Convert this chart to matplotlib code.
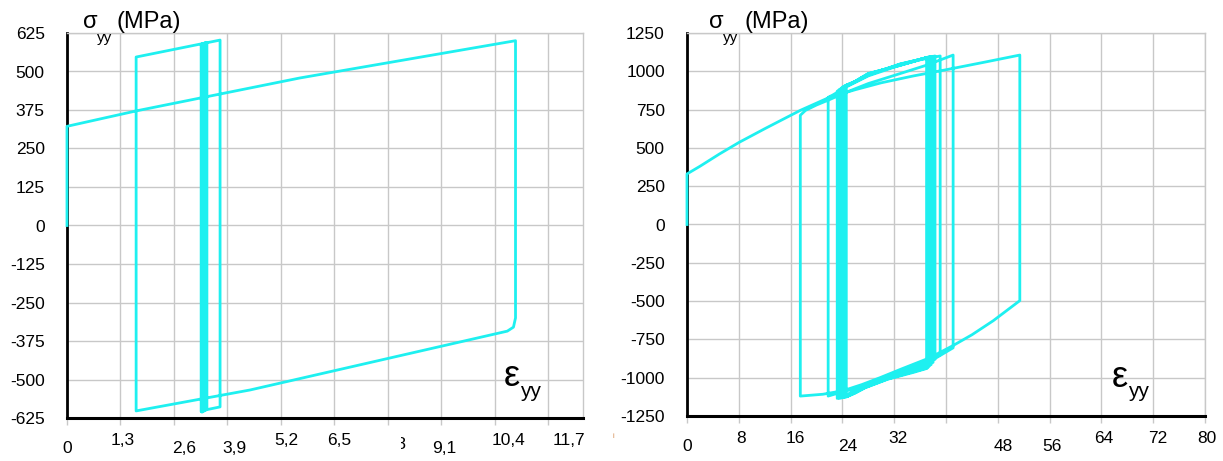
import matplotlib.pyplot as plt
from matplotlib.transforms import Bbox, TransformedBbox, blended_transform_factory

plt.rcParams['font.family'] = ['Liberation Sans', 'DejaVu Sans']

# left test: strain (%) vs stress (MPa)
left_strain = [0, 0, 1.68, 5.66, 10.9, 10.9, 10.85, 10.7, 4.45, 1.68,
               1.68, 3.72, 3.72, 3.32, 3.32, 3.40, 3.40, 3.26, 3.26, 3.38,
               3.38, 3.28, 3.28, 3.36, 3.36, 3.30, 3.30, 3.34, 3.34]
left_stress = [0, 322, 372, 479, 600, -300, -330, -343, -534, -602,
               547, 602, -589, -600, 590, 594, -596, -604, 588, 592,
               -598, -606, 589, 593, -600, -603, 590, 592, -598]

# right test
right_strain = [0, 0, 2, 5, 8, 12, 17.5, 22, 26, 30, 35, 40, 46, 51.4,
                51.4, 47.3, 44, 41.1, 37.5, 33, 29.8, 27, 24.1, 21, 17.5,
                17.5, 18.3, 20, 22, 24.7, 28, 32.9, 37, 41.1,
                41.1, 37.5, 33, 29.8, 26, 23, 21.8,
                21.8, 22.5, 24.7, 28, 32.9, 36, 39.1,
                39.1, 37, 33, 29.8, 27, 24.8, 23.2,
                23.2, 24.7, 28, 32.9, 38.3, 38.3, 35, 31, 27.5, 25, 23.5,
                23.5, 25, 28, 32.9, 38.0, 38.0, 35, 31, 27.5, 25.2, 23.8,
                23.8, 25.3, 28, 32.9, 37.7, 37.7, 35, 31, 27.5, 25.4, 24.1,
                24.1, 25.6, 28, 32.9, 37.4, 37.4, 35, 31, 27.5, 25.6, 24.4,
                24.4, 25.8, 28, 32.9, 37.2, 37.2, 35, 31, 27.5, 25.8, 24.6,
                24.6, 26, 28, 32.9, 37.0, 37.0, 35, 31, 27.5, 26, 24.8]
right_stress = [0, 330, 380, 460, 535, 625, 745, 830, 880, 925, 970, 1010, 1060, 1106,
                -497, -628, -720, -790, -870, -945, -1000, -1045, -1085, -1108, -1120,
                713, 745, 780, 815, 865, 920, 985, 1040, 1106,
                -805, -895, -965, -1015, -1070, -1105, -1120,
                830, 845, 900, 970, 1040, 1075, 1100,
                -850, -890, -960, -1010, -1055, -1110, -1135,
                870, 905, 975, 1048, 1100, -880, -935, -995, -1055, -1108, -1135,
                880, 912, 978, 1046, 1098, -900, -940, -998, -1058, -1108, -1133,
                890, 918, 980, 1044, 1096, -915, -948, -1002, -1060, -1106, -1130,
                900, 925, 982, 1042, 1094, -925, -955, -1005, -1062, -1104, -1128,
                905, 930, 984, 1040, 1092, -935, -960, -1008, -1064, -1102, -1125,
                910, 935, 986, 1038, 1090, -940, -965, -1010, -1066, -1100, -1122]

left_grid = [0, 1.3, 2.6, 3.9, 5.2, 6.5, 7.8, 9.1, 10.4, 11.7]
left_yticks = [-625, -500, -375, -250, -125, 0, 125, 250, 375, 500, 625]
left_xlabels = ['0', '1,3', '2,6', '3,9', '5,2', '6,5', '7,8', '9,1', '10,4', '11,7']
left_xlabel_pos = [0, 1.36, 2.84, 4.06, 5.32, 6.61, 7.95, 9.16, 10.72, 12.2]
left_xlabel_low = [1, 0, 1, 1, 0, 0, 0.5, 1, 0, 0]

right_grid = [0, 8, 16, 24, 32, 40, 48, 56, 64, 72, 80]
right_yticks = [-1250, -1000, -750, -500, -250, 0, 250, 500, 750, 1000, 1250]
right_xlabels = ['0', '8', '16', '24', '32', '48', '56', '64', '72', '80']
right_xlabel_pos = [0, 8.3, 16.7, 24.9, 32.6, 48.8, 56.4, 64.4, 72.7, 80.3]
right_xlabel_low = [1, 0, 0, 1, 0, 1, 1, 0, 0, 0]

W, H = 1223, 461
fig = plt.figure(figsize=(W / 100, H / 100), dpi=100)


def px(x, y):
    return x / W, 1 - y / H


def setup(rect, xmax, grid, yticks, labels, pos, low):
    ax = fig.add_axes(rect)
    ax.set_xlim(0, xmax)
    ax.set_ylim(yticks[0], yticks[-1])
    ax.set_xticks(grid)
    ax.set_xticklabels([])
    ax.set_yticks(yticks)
    ax.set_yticklabels([str(v) for v in yticks])
    ax.grid(True, color='#c8c8c8', lw=1)
    ax.tick_params(axis='x', length=5, color='#c8c8c8', width=1)
    ax.tick_params(axis='y', length=0, pad=16, labelsize=12.5)
    ax.spines['left'].set_linewidth(2)
    ax.spines['bottom'].set_linewidth(2.2)
    for s in ['top', 'right']:
        ax.spines[s].set_color('#c8c8c8')
        ax.spines[s].set_linewidth(1)
    trans = blended_transform_factory(ax.transData, ax.transAxes)
    texts = []
    for lab, x, lo in zip(labels, pos, low):
        t = ax.text(x, -0.058 - 0.022 * lo, lab, transform=trans, ha='center',
                    va='center', fontsize=12.5, clip_on=False)
        texts.append(t)
    return ax, texts


ax1, t1 = setup([67 / W, 43 / H, 516 / W, 385 / H], 12.54, left_grid, left_yticks,
                left_xlabels, left_xlabel_pos, left_xlabel_low)
ax2, t2 = setup([687 / W, 45 / H, 518 / W, 383 / H], 80, right_grid, right_yticks,
                right_xlabels, right_xlabel_pos, right_xlabel_low)

# the "7,8" label is partly hidden in the original
cut = TransformedBbox(Bbox([[401 / W, 0], [1, 0.2]]), fig.transFigure)
t1[6].set_clip_box(cut)
t1[6].set_clip_on(True)

cyan = '#1ef0f0'
ax1.plot(left_strain, left_stress, color=cyan, lw=2, clip_on=False, zorder=3)
ax2.plot(right_strain, right_stress, color=cyan, lw=2, clip_on=False, zorder=3)

# axis titles
for sx, yx, mx in [(90, 104.5, 117), (716.5, 731, 745)]:
    fig.text(*px(sx, 22), 'σ', fontsize=17, ha='center', va='center')
    fig.text(*px(yx, 38), 'yy', fontsize=11, ha='center', va='center')
    fig.text(*px(mx, 22), '(MPa)', fontsize=17, ha='left', va='center')

for ex, yx in [(512, 376), (1120, 377)]:
    pass
fig.text(*px(512, 376), 'ε', fontsize=26, ha='center', va='center')
fig.text(*px(531, 391), 'yy', fontsize=15, ha='center', va='center')
fig.text(*px(1120, 377), 'ε', fontsize=26, ha='center', va='center')
fig.text(*px(1139, 391), 'yy', fontsize=15, ha='center', va='center')

fig.text(*px(613, 436), 'i', fontsize=5, color='#d08040', ha='center', va='center')

fig.savefig('out.png', dpi=100)
